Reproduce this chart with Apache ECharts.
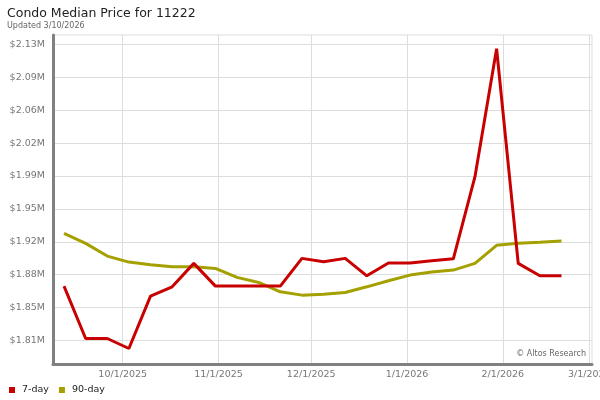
<!DOCTYPE html>
<html><head><meta charset="utf-8">
<script src="https://cdn.jsdelivr.net/npm/echarts@6/dist/echarts.min.js"></script>
<style>html,body{margin:0;padding:0;background:#fff}#c{width:600px;height:400px}</style>
</head><body><div id="c"></div>
<script>
const dates = ['2025-09-12','2025-09-19','2025-09-26','2025-10-03','2025-10-10','2025-10-17','2025-10-24','2025-10-31',
  '2025-11-07','2025-11-14','2025-11-21','2025-11-28','2025-12-05','2025-12-12','2025-12-19','2025-12-26',
  '2026-01-02','2026-01-09','2026-01-16','2026-01-23','2026-01-30','2026-02-06','2026-02-13','2026-02-20'];
const sevenDay = [1867850,1812130,1812130,1801480,1857200,1867100,1892040,1867850,
  1867850,1867850,1867850,1897360,1893740,1897360,1878830,1892360,
  1892360,1894810,1896940,1984300,2120350,1892040,1878830,1878830];
const ninetyDay = [1924000,1913340,1899810,1893420,1890540,1888410,1888410,1886710,
  1877120,1871790,1861780,1858260,1859330,1861140,1867100,1873500,
  1879570,1882770,1884900,1892040,1911210,1913340,1914410,1915800];
const yTicks = [1810000,1845000,1880000,1915000,1950000,1985000,2020000,2055000,2090000,2125000];
const xTicks = ['2025-10-01','2025-11-01','2025-12-01','2026-01-01','2026-02-01','2026-03-01'];
const seriesNames = ['7-day','90-day'];
const seriesColors = ['#c80000','#a3a000'];

function toTime(s){const p=s.split('-').map(Number);return new Date(p[0],p[1]-1,p[2]).getTime();}
const xTickTimes = xTicks.map(toTime);
const chart = echarts.init(document.getElementById('c'));
const font = 'DejaVu Sans';
chart.setOption({
  animation:false,
  textStyle:{fontFamily:font},
  title:{text:'Condo Median Price for 11222',subtext:'Updated 3/10/2026',left:2,top:2,itemGap:2,
    textStyle:{fontSize:12.5,fontWeight:'normal',color:'#222',fontFamily:font},
    subtextStyle:{fontSize:8,color:'#666',fontFamily:font}},
  legend:{left:4,top:380,itemWidth:6,itemHeight:6,itemGap:10,icon:'rect',
    data:seriesNames,
    textStyle:{fontSize:9.5,color:'#222',fontFamily:font,padding:[0,0,0,2]}},
  grid:{left:53,right:8,top:35,bottom:36,show:true,borderColor:'#ddd',borderWidth:1,
    containLabel:false,outerBoundsMode:'none'},
  xAxis:{type:'value',min:new Date(2025,8,8,10,30).getTime(),max:new Date(2026,2,1,21,0).getTime(),
    axisLine:{show:true,lineStyle:{color:'#808080',width:3}},
    axisTick:{show:false,customValues:xTickTimes},
    splitLine:{show:true,lineStyle:{color:'#ddd',width:1}},
    axisLabel:{customValues:xTickTimes,color:'#777',fontSize:9.5,margin:6,fontFamily:font,hideOverlap:false,
      showMinLabel:true,showMaxLabel:true,
      formatter:function(v){const d=new Date(v);return (d.getMonth()+1)+'/'+d.getDate()+'/'+d.getFullYear();}}},
  yAxis:{type:'value',min:1785000,max:2135000,
    axisLine:{show:true,lineStyle:{color:'#808080',width:3}},
    axisTick:{show:false,customValues:yTicks},
    splitLine:{show:true,lineStyle:{color:'#ddd',width:1}},
    axisLabel:{customValues:yTicks,color:'#777',fontSize:9.5,margin:8,fontFamily:font,
      formatter:function(v){return '$'+(Math.round(v/10000)/100).toFixed(2)+'M';}}},
  graphic:[{type:'text',right:12,top:349,z:100,style:{text:'\u00a9 Altos Research',fontSize:8,fill:'#666',fontFamily:font,
    backgroundColor:'#fff',padding:[1,2]}}],
  series:[
    {name:seriesNames[0],type:'line',z:3,showSymbol:false,symbol:'none',color:seriesColors[0],
      lineStyle:{width:3,color:seriesColors[0]},data:dates.map((d,i)=>[toTime(d),sevenDay[i]])},
    {name:seriesNames[1],type:'line',z:2,showSymbol:false,symbol:'none',color:seriesColors[1],
      lineStyle:{width:3,color:seriesColors[1]},data:dates.map((d,i)=>[toTime(d),ninetyDay[i]])}
  ]
});
</script></body></html>
